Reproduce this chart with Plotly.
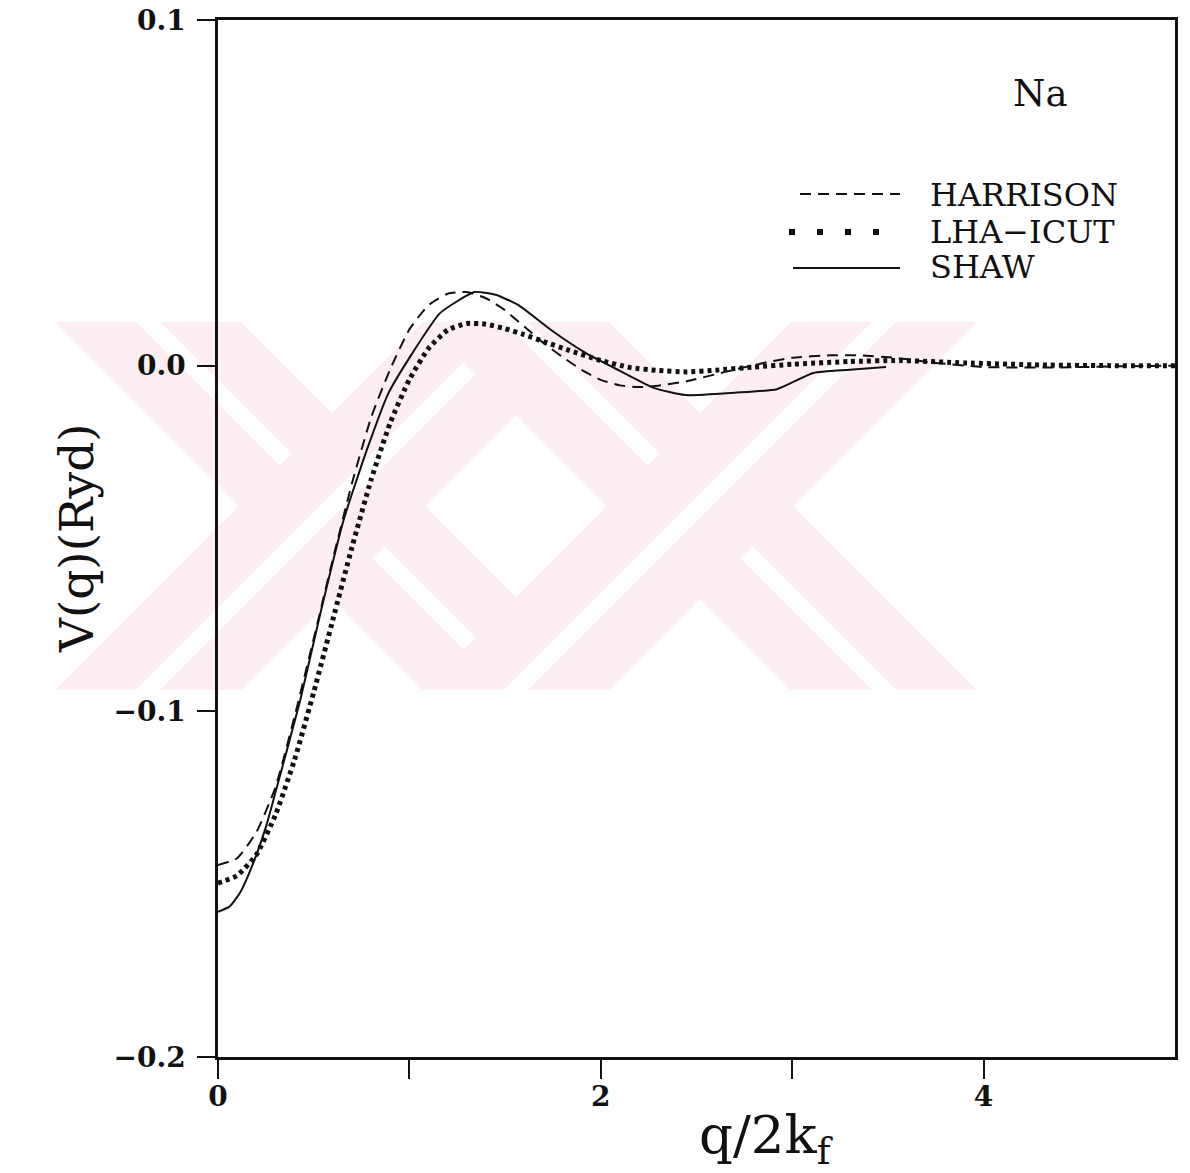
import plotly.graph_objects as go

# Pseudopotential form factors V(q) for Na, in Rydberg, vs q/2k_f
q_harrison = [0.0, 0.1, 0.2, 0.3, 0.4, 0.5, 0.6, 0.7, 0.8, 0.9, 1.0, 1.1, 1.2, 1.3,
              1.4, 1.5, 1.6, 1.7, 1.8, 1.9, 2.0, 2.1, 2.2, 2.3, 2.45, 2.65, 2.85,
              3.0, 3.2, 3.35, 3.55, 3.75, 4.0, 4.4, 4.7, 5.0]
v_harrison = [-0.1445, -0.1425, -0.1350, -0.1220, -0.1015, -0.0790, -0.0560, -0.0340,
              -0.0150, -0.0010, 0.0105, 0.0175, 0.0208, 0.0213, 0.0195, 0.0160, 0.0113,
              0.0066, 0.0025, -0.0012, -0.0041, -0.0057, -0.0062, -0.0058, -0.0045,
              -0.0018, 0.0008, 0.0023, 0.0030, 0.0030, 0.0022, 0.0008, -0.0004,
              -0.0005, -0.0002, 0.0]

q_lha = [0.0, 0.1, 0.2, 0.3, 0.4, 0.5, 0.6, 0.7, 0.8, 0.9, 1.0, 1.1, 1.2, 1.3, 1.4,
         1.5, 1.6, 1.7, 1.83, 2.0, 2.15, 2.3, 2.45, 2.6, 2.8, 3.0, 3.3, 3.56, 3.9, 4.3,
         4.7, 5.0]
v_lha = [-0.1497, -0.1475, -0.1415, -0.1300, -0.1140, -0.0945, -0.0735, -0.0525,
         -0.0330, -0.0165, -0.0040, 0.0050, 0.0103, 0.0122, 0.0120, 0.0107, 0.0090,
         0.0070, 0.0045, 0.0015, -0.0005, -0.0014, -0.0018, -0.0013, -0.0004, 0.0004,
         0.0012, 0.0015, 0.0008, 0.0002, 0.0, 0.0]

q_shaw = [0.0, 0.06, 0.115, 0.18, 0.25, 0.3, 0.43, 0.535, 0.656, 0.78, 0.89, 1.02, 1.16,
          1.34, 1.45, 1.57, 1.74, 1.92, 2.1, 2.28, 2.44, 2.7, 2.92, 3.11, 3.3, 3.49]
v_shaw = [-0.1580, -0.1565, -0.1525, -0.1445, -0.1335, -0.1235, -0.0967, -0.0716,
          -0.0447, -0.0240, -0.0080, 0.0040, 0.0152, 0.0213, 0.0205, 0.0175, 0.0103,
          0.0037, -0.0015, -0.0065, -0.0085, -0.0078, -0.0068, -0.0021, -0.0012, -0.0004]

legend_labels = ["HARRISON", "LHA\u2212ICUT", "SHAW"]
panel_label = "Na"

x_ticks = [0, 1, 2, 3, 4]
x_tick_text = ["0", "", "2", "", "4"]
y_ticks = [0.1, 0.0, -0.1, -0.2]

W, H = 1190, 1173
L, R, T, B = 218, 15, 20, 116
PW, PH = W - L - R, H - T - B


def px(x):
    return (x - L) / PW


def py(y):
    return (H - B - y) / PH


def paper_path(points):
    return "M " + " L ".join(f"{px(a):.5f},{py(b):.5f}" for a, b in points) + " Z"


ink = "#111111"
pink = "#fdeff1"
fig = go.Figure()

# faint stamp in the background: two crossed double-stroke bands
band_top, band_bot = 322, 690
mid = (band_top + band_bot) / 2
for cx in (332, 700):
    for sgn in (1, -1):
        for half, colour in ((93, pink), (12, "white")):
            c_top = cx + sgn * (band_top - mid)
            c_bot = cx + sgn * (band_bot - mid)
            pts = [(c_top - half, band_top), (c_top + half, band_top),
                   (c_bot + half, band_bot), (c_bot - half, band_bot)]
            fig.add_shape(type="path", xref="paper", yref="paper", path=paper_path(pts),
                          fillcolor=colour, line=dict(width=0), layer="below")

fig.add_trace(go.Scatter(x=q_harrison, y=v_harrison, mode="lines", name=legend_labels[0],
                         line=dict(color=ink, width=2, dash="11px,7px", shape="spline",
                                   smoothing=0.5)))
fig.add_trace(go.Scatter(x=q_lha, y=v_lha, mode="lines", name=legend_labels[1],
                         line=dict(color=ink, width=5, dash="4px,4px", shape="spline",
                                   smoothing=0.5)))
fig.add_trace(go.Scatter(x=q_shaw, y=v_shaw, mode="lines", name=legend_labels[2],
                         line=dict(color=ink, width=2, shape="spline", smoothing=0.5)))

# hand-drawn key
key_rows = [194, 232, 268]
key_text_rows = [195, 232, 267]
key_styles = [dict(width=2, dash="11px,7px"), dict(width=6, dash="6px,22px"), dict(width=2)]
key_x0 = [800, 789, 793]
for row, trow, style, x0, label in zip(key_rows, key_text_rows, key_styles, key_x0,
                                       legend_labels):
    fig.add_shape(type="line", xref="paper", yref="paper", x0=px(x0), x1=px(900),
                  y0=py(row), y1=py(row), line=dict(color=ink, **style))
    fig.add_annotation(xref="paper", yref="paper", x=px(928), y=py(trow),
                       text=label, showarrow=False, xanchor="left", yanchor="middle",
                       font=dict(family="DejaVu Serif", size=32, color=ink))

fig.add_annotation(xref="paper", yref="paper", x=px(1040), y=py(93), text=panel_label,
                   showarrow=False, xanchor="center", yanchor="middle",
                   font=dict(family="DejaVu Serif", size=37, color=ink))

# axis titles
fig.add_annotation(xref="paper", yref="paper", x=px(766), y=py(1138),
                   text="q/2k<sub>f</sub>", showarrow=False,
                   xanchor="center", yanchor="middle",
                   font=dict(family="DejaVu Serif", size=53, color=ink))
fig.add_annotation(xref="paper", yref="paper", x=px(76), y=py(538),
                   text="V(q)(Ryd)", showarrow=False, textangle=-90,
                   xanchor="center", yanchor="middle",
                   font=dict(family="DejaVu Serif", size=47, color=ink))

fig.update_layout(
    width=W, height=H,
    margin=dict(l=L, r=R, t=T, b=B, autoexpand=False),
    paper_bgcolor="white", plot_bgcolor="rgba(0,0,0,0)",
    showlegend=False,
)
fig.update_xaxes(
    range=[0, 5], tickvals=x_ticks, ticktext=x_tick_text, automargin=False,
    showgrid=False, zeroline=False,
    showline=True, linecolor=ink, linewidth=2.5, mirror=True,
    ticks="outside", ticklen=19, tickwidth=2, tickcolor=ink,
    ticklabelstandoff=-6,
    tickfont=dict(family="DejaVu Serif", size=28, color=ink, weight="bold"),
)
fig.update_yaxes(
    range=[-0.2, 0.1], tickvals=y_ticks, tickformat=".1f", automargin=False,
    showgrid=False, zeroline=False,
    showline=True, linecolor=ink, linewidth=2.5, mirror=True,
    ticks="outside", ticklen=18, tickwidth=2, tickcolor=ink,
    ticklabelstandoff=6,
    tickfont=dict(family="DejaVu Serif", size=28, color=ink, weight="bold"),
)

fig.write_html("out.html")
